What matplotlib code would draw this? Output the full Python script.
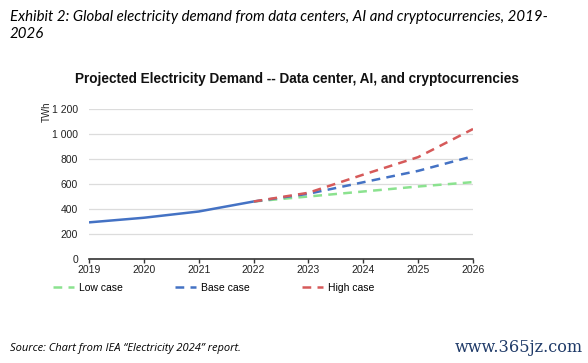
import matplotlib.pyplot as plt
from matplotlib.lines import Line2D
from matplotlib.ticker import FuncFormatter

# historical demand (TWh) and the three projections from 2022
hist_years = [2019, 2020, 2021, 2022]
hist_twh = [293, 330, 380, 460]

proj_years = [2022, 2023, 2024, 2025, 2026]
low_case = [460, 500, 540, 580, 615]
base_case = [460, 522, 614, 705, 822]
high_case = [460, 530, 675, 815, 1040]

years = list(range(2019, 2027))
y_ticks = [0, 200, 400, 600, 800, 1000, 1200]

BLUE = '#4472c4'
RED = '#d65a5a'
GREEN = '#8be28f'

plt.rcParams['font.family'] = ['Liberation Sans', 'DejaVu Sans']

fig = plt.figure(figsize=(5.88, 3.63), dpi=100)
ax = fig.add_axes([89 / 588, 1 - 259 / 363, 384 / 588, 150 / 363])

# projections first so the historical line sits on top
ax.plot(proj_years, low_case, color=GREEN, lw=1.8, ls=(0, (3.5, 2.5)))
ax.plot(proj_years, base_case, color=BLUE, lw=1.8, ls=(0, (3.5, 2.5)))
ax.plot(proj_years, high_case, color=RED, lw=1.8, ls=(0, (3.5, 2.5)))
ax.plot(hist_years, hist_twh, color=BLUE, lw=1.8, solid_capstyle='butt')

ax.set_xlim(2019, 2026)
ax.set_ylim(0, 1200)
ax.set_xticks(years)
ax.set_yticks(y_ticks)
ax.yaxis.set_major_formatter(FuncFormatter(lambda v, p: f'{int(v):,}'.replace(',', ' ')))
ax.grid(axis='y', color='#dcdcdc', lw=0.9)
ax.set_axisbelow(True)
for s in ['top', 'right', 'left']:
    ax.spines[s].set_visible(False)
ax.spines['bottom'].set_color('#333333')
ax.spines['bottom'].set_linewidth(1.2)
ax.tick_params(axis='x', length=3, width=1, color='#333333', labelsize=7.5, pad=1, labelcolor='#222222')
ax.tick_params(axis='y', length=0, labelsize=7.5, pad=8, labelcolor='#222222')
ax.set_ylabel('TWh', fontsize=7, color='#222222')
ax.yaxis.set_label_coords(-0.097, 0.98)

fig.text(297 / 588, 1 - 79 / 363, 'Projected Electricity Demand -- Data center, AI, and cryptocurrencies',
         ha='center', va='center', fontsize=9.8, fontweight='bold', color='#111111')

handles = [Line2D([], [], color=c, lw=1.8, ls=(0, (3.5, 2.5))) for c in (GREEN, BLUE, RED)]
fig.legend(handles, ['Low case', 'Base case', 'High case'], loc='center',
           bbox_to_anchor=(214 / 588, 1 - 288 / 363), ncol=3, frameon=False,
           fontsize=7.5, handlelength=2.0, handletextpad=0.5, columnspacing=5.0)

fig.text(10 / 588, 1 - 10 / 363, 'Exhibit 2: Global electricity demand from data centers, AI and cryptocurrencies, 2019-\n2026',
         ha='left', va='top', fontsize=10.8, fontstyle='italic', family=['Lato', 'DejaVu Sans'],
         color='#000000', linespacing=1.25)
fig.text(10 / 588, 1 - 348 / 363, 'Source: Chart from IEA \u201cElectricity 2024\u201d report.',
         ha='left', va='center', fontsize=8, fontstyle='italic', family=['Open Sans', 'DejaVu Sans'])
fig.text(583 / 588, 1 - 347 / 363, 'www.365jz.com', ha='right', va='center', fontsize=11.6,
         family=['DejaVu Serif'], color='#1f3a68')

fig.savefig('out.png', dpi=100)
